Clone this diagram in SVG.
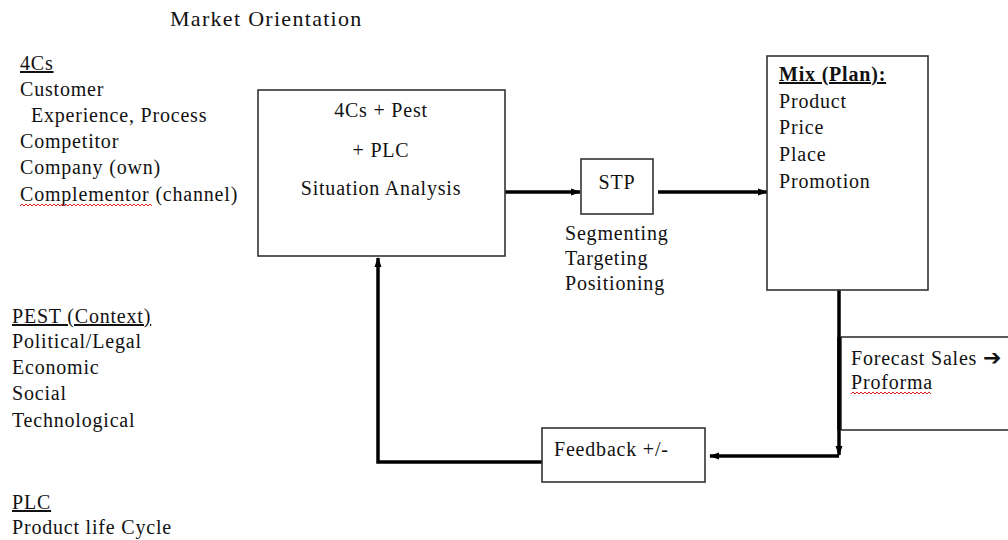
<svg xmlns="http://www.w3.org/2000/svg" width="1008" height="540" viewBox="0 0 1008 540">
  <style>
    text { font-family: "Liberation Serif", "Times New Roman", serif; font-size: 20px; letter-spacing: 0.8px; fill: #111; }
    .title { font-size: 22px; letter-spacing: 1.3px; }
    .u { text-decoration: underline; }
    .b { font-weight: bold; }
    .mid { text-anchor: middle; }
    .box { fill: #fff; stroke: #333; stroke-width: 1.6; }
    .flow { fill: none; stroke: #000; stroke-width: 3.5; stroke-linejoin: miter; }
    .squiggle { fill: none; stroke: #e02020; stroke-width: 1; }
  </style>
  <defs>
    <marker id="head" markerUnits="userSpaceOnUse" markerWidth="10" markerHeight="10" viewBox="0 0 10 10" refX="9" refY="5" orient="auto">
      <path d="M0,1.5 L10,5 L0,8.5 Z" fill="#000"/>
    </marker>
    <!-- spell-check wave, 2px steps -->
    <path id="wave" d="M0,0 l2,-2 l2,2 l2,-2 l2,2 l2,-2 l2,2 l2,-2 l2,2 l2,-2 l2,2 l2,-2 l2,2 l2,-2 l2,2 l2,-2 l2,2 l2,-2 l2,2 l2,-2 l2,2 l2,-2 l2,2 l2,-2 l2,2 l2,-2 l2,2 l2,-2 l2,2 l2,-2 l2,2 l2,-2 l2,2 l2,-2 l2,2 l2,-2 l2,2 l2,-2 l2,2 l2,-2 l2,2"/>
  </defs>

  <rect width="1008" height="540" fill="#fff"/>

  <text class="title" x="170" y="26">Market Orientation</text>

  <!-- 4Cs list -->
  <g id="list-4cs">
    <text class="u" x="20" y="70">4Cs</text>
    <text x="20" y="96">Customer</text>
    <text x="31" y="122">Experience, Process</text>
    <text x="20" y="148">Competitor</text>
    <text x="20" y="174">Company (own)</text>
    <text x="20" y="201">Complementor (channel)</text>
    <use href="#wave" class="squiggle" transform="translate(20,206)"/>
    <use href="#wave" class="squiggle" transform="translate(72,206)"/>
  </g>

  <!-- PEST list -->
  <g id="list-pest">
    <text class="u" x="12" y="323">PEST (Context)</text>
    <text x="12" y="348">Political/Legal</text>
    <text x="12" y="374">Economic</text>
    <text x="12" y="400">Social</text>
    <text x="12" y="427">Technological</text>
  </g>

  <!-- PLC list -->
  <g id="list-plc">
    <text class="u" x="12" y="509">PLC</text>
    <text x="12" y="534">Product life Cycle</text>
  </g>

  <!-- connectors -->
  <g id="connectors">
    <line class="flow" x1="505" y1="192" x2="580" y2="192" marker-end="url(#head)"/>
    <line class="flow" x1="658" y1="192" x2="767" y2="192" marker-end="url(#head)"/>
    <polyline class="flow" points="839,286 839,455" marker-end="url(#head)"/>
    <polyline class="flow" points="839,456 710,456" marker-end="url(#head)"/>
    <polyline class="flow" points="542,462 378,462 378,258" marker-end="url(#head)"/>
  </g>

  <!-- situation analysis -->
  <g id="node-situation">
    <rect class="box" x="258" y="90" width="247" height="166"/>
    <text class="mid" x="381" y="117">4Cs + Pest</text>
    <text class="mid" x="381" y="157">+ PLC</text>
    <text class="mid" x="381" y="195">Situation Analysis</text>
  </g>

  <!-- STP -->
  <g id="node-stp">
    <rect class="box" x="581" y="159" width="72" height="55"/>
    <text class="mid" x="617" y="189">STP</text>
    <text x="565" y="240">Segmenting</text>
    <text x="565" y="265">Targeting</text>
    <text x="565" y="290">Positioning</text>
  </g>

  <!-- marketing mix -->
  <g id="node-mix">
    <rect class="box" x="767" y="56" width="161" height="234"/>
    <text class="b u" x="779" y="81">Mix (Plan):</text>
    <text x="779" y="108">Product</text>
    <text x="779" y="134">Price</text>
    <text x="779" y="161">Place</text>
    <text x="779" y="188">Promotion</text>
  </g>

  <!-- forecast -->
  <g id="node-forecast">
    <rect class="box" x="841" y="337" width="180" height="93"/>
    <line x1="839" y1="337" x2="839" y2="430" stroke="#000" stroke-width="3.5"/>
    <text x="851" y="365">Forecast Sales <tspan font-family="DejaVu Sans, sans-serif" font-weight="bold" font-size="22">➔</tspan></text>
    <text x="851" y="389">Proforma</text>
    <use href="#wave" class="squiggle" transform="translate(851,394)"/>
  </g>

  <!-- feedback -->
  <g id="node-feedback">
    <rect class="box" x="542" y="428" width="163" height="54"/>
    <text x="554" y="456">Feedback +/-</text>
  </g>
</svg>
